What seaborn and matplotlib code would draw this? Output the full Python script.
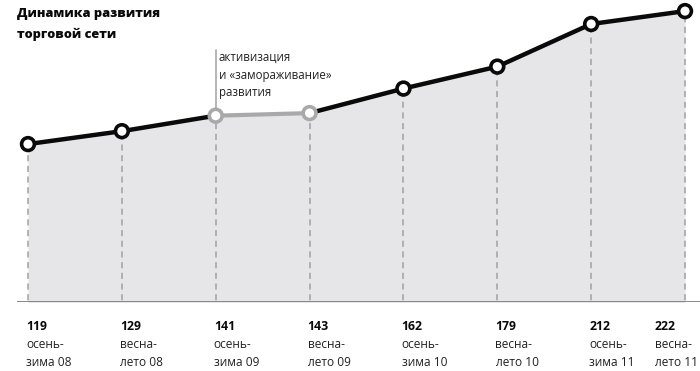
import numpy as np
import pandas as pd
import matplotlib
matplotlib.use("Agg")
import matplotlib.pyplot as plt
import seaborn as sns

sns.set_theme(style="white")
plt.rcParams['font.family'] = ['Open Sans', 'DejaVu Sans']

# data
values  = [119, 129, 141, 143, 162, 179, 212, 222]
seasons = ["осень-", "весна-", "осень-", "весна-", "осень-", "весна-", "осень-", "весна-"]
periods = ["зима 08", "лето 08", "зима 09", "лето 09", "зима 10", "лето 10", "зима 11", "лето 11"]
frozen  = [2, 3]   # indices of the "замораживание" segment
note    = "активизация\nи «замораживание»\nразвития"
title   = "Динамика развития\nторговой сети"

BLACK = "#0a0a0a"
GRAY  = "#a9a9a9"
FILL  = "#e6e6e8"
DASH  = "#a0a0a0"

df = pd.DataFrame({"x": np.arange(len(values)), "v": values})

fig = plt.figure(figsize=(7.0, 3.71), dpi=100)
ax = fig.add_axes([17/700, 1 - 302/371, 683/700, 302/371])

ax.fill_between(df["x"], df["v"], -10, color=FILL, zorder=0, linewidth=0)
for x, v in zip(df["x"], df["v"]):
    ax.plot([x, x], [-10, v], color=DASH, linestyle=(0, (4, 3)), linewidth=1.1, zorder=1)

# line in pieces: black before and after the frozen segment, gray within it
sns.lineplot(data=df.iloc[:frozen[0] + 1], x="x", y="v", ax=ax, color=BLACK,
             linewidth=3.2, zorder=3)
sns.lineplot(data=df.iloc[frozen[-1]:], x="x", y="v", ax=ax, color=BLACK,
             linewidth=3.2, zorder=3)
sns.lineplot(data=df.iloc[frozen], x="x", y="v", ax=ax, color=GRAY,
             linewidth=3.0, zorder=4)

cols = [GRAY if i in frozen else BLACK for i in range(len(values))]
ax.scatter(df["x"], df["v"], s=85, facecolor="white", edgecolor=cols, linewidth=2.6, zorder=5)

# annotation stem
xa = frozen[0]
ax.plot([xa, xa], [values[xa] + 3, values[xa] + 51], color=GRAY, linewidth=1.2, zorder=2)
ax.text(xa + 0.035, values[xa] + 50, note, ha="left", va="top", fontsize=8.3,
        color="#222222", linespacing=1.45)

ax.set_xlim(-11/93.9, 7 + 15/93.9)
ax.set_ylim(-3.3, 230.6)
ax.axhline(-3.3, color="#777777", linewidth=1.2, zorder=6)
ax.axis("off")

# bottom labels
for i, (v, s, p) in enumerate(zip(values, seasons, periods)):
    xf = (28 + i * 93.9) / 700 - 2/700
    if i == len(values) - 1:
        xf = 655 / 700
    fig.text(xf, 1 - 327/371, str(v), ha="left", va="center", fontsize=8.8,
             fontweight="bold", color=BLACK)
    fig.text(xf, 1 - 345/371, s, ha="left", va="center", fontsize=8.6, color="#222222")
    fig.text(xf, 1 - 362/371, p, ha="left", va="center", fontsize=8.6, color="#222222")

fig.text(17/700, 1 - 8/371, title, ha="left", va="top", fontsize=9.2,
         fontweight="heavy", color=BLACK, linespacing=1.75)

fig.savefig("out.png", dpi=100)
